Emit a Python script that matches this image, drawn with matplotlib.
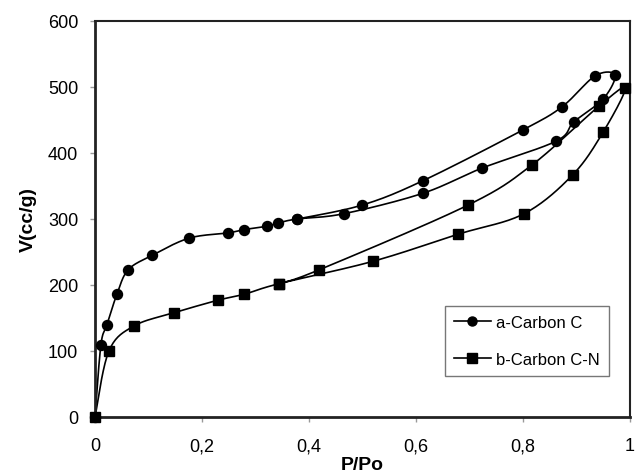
import numpy as np
import matplotlib
matplotlib.use("Agg")
import matplotlib.pyplot as plt

plt.rcParams['font.family'] = ['Liberation Sans', 'DejaVu Sans']

# Series a-Carbon C (adsorption then desorption, in drawing order)
pa = [0.0, 0.011, 0.022, 0.041, 0.062, 0.107, 0.176, 0.249, 0.279, 0.321, 0.342, 0.378,
      0.465, 0.613, 0.723, 0.862, 0.895, 0.950, 0.972,
      0.935, 0.873, 0.800, 0.613, 0.499, 0.378]
va = [0, 109, 139, 186, 223, 245, 271, 279, 284, 289, 294, 300,
      308, 339, 377, 418, 447, 482, 518,
      517, 470, 435, 358, 321, 300]

# Series b-Carbon C-N
pb = [0.0, 0.026, 0.073, 0.148, 0.230, 0.279, 0.344, 0.520, 0.679, 0.802, 0.893, 0.950, 0.991,
      0.942, 0.817, 0.697, 0.419, 0.344]
vb = [0, 100, 138, 158, 177, 186, 202, 236, 277, 308, 367, 432, 498,
      471, 382, 321, 223, 202]

labels = ['a-Carbon C', 'b-Carbon C-N']
xticks = [0, 0.2, 0.4, 0.6, 0.8, 1.0]
xticklabels = ['0', '0,2', '0,4', '0,6', '0,8', '1']
yticks = [0, 100, 200, 300, 400, 500, 600]

W, H = 535.0, 396.0  # axes size in px for smoothing in screen space


def smooth(xs, ys, n=20):
    x = np.asarray(xs, float) * W / 1.0
    y = np.asarray(ys, float) * H / 600.0
    P = np.column_stack([x, y])
    out = [P[0]]
    m = len(P)
    for i in range(m - 1):
        p0 = P[i - 1] if i > 0 else P[i]
        p1 = P[i]
        p2 = P[i + 1]
        p3 = P[i + 2] if i + 2 < m else P[i + 1]
        c1 = p1 + (p2 - p0) / 6.0
        c2 = p2 - (p3 - p1) / 6.0
        t = np.linspace(0, 1, n)[1:, None]
        seg = ((1 - t) ** 3) * p1 + 3 * ((1 - t) ** 2) * t * c1 + 3 * (1 - t) * t ** 2 * c2 + t ** 3 * p2
        out.extend(seg)
    out = np.array(out)
    return out[:, 0] / W, out[:, 1] * 600.0 / H


fig = plt.figure(figsize=(6.37, 4.77), dpi=100)
ax = fig.add_axes([95 / 637, 1 - 418 / 477, 535 / 637, 396 / 477])

xa, ya = smooth(pa, va)
xb, yb = smooth(pb, vb)
ax.plot(xa, ya, color='black', lw=1.2, zorder=2)
ax.plot(pa, va, 'o', color='black', ms=7.2, zorder=3, clip_on=False)
ax.plot(xb, yb, color='black', lw=1.2, zorder=2)
ax.plot(pb, vb, 's', color='black', ms=7, zorder=3, clip_on=False)

# legend proxies
ha, = ax.plot([], [], '-o', color='black', lw=1.2, ms=6.5)
hb, = ax.plot([], [], '-s', color='black', lw=1.2, ms=6.5)
leg = ax.legend([ha, hb], labels, loc='lower left', bbox_to_anchor=(0.654, 0.104),
                borderaxespad=0, fancybox=False, frameon=True, fontsize=12,
                handlelength=2.2, handletextpad=0.3, labelspacing=1.3,
                borderpad=0.55)
leg.get_frame().set_edgecolor('#555555')
leg.get_frame().set_linewidth(1.0)

ax.set_xlim(0, 1)
ax.set_ylim(0, 600)
ax.set_xticks(xticks)
ax.set_xticklabels(xticklabels)
ax.set_yticks(yticks)
ax.tick_params(axis='both', direction='out', length=3.6, width=1, color='#999999',
               labelsize=13)
ax.tick_params(axis='x', pad=11)
ax.tick_params(axis='y', pad=8.5)
for s in ['left', 'bottom']:
    ax.spines[s].set_linewidth(2.0)
    ax.spines[s].set_color('#222222')
for s in ['top', 'right']:
    ax.spines[s].set_linewidth(1.5)
    ax.spines[s].set_color('#222222')

ax.set_xlabel('P/Po', fontsize=14, fontweight='bold', labelpad=1)
ax.set_ylabel('V(cc/g)', fontsize=14, fontweight='bold', labelpad=8)

fig.savefig('out.png', dpi=100)
